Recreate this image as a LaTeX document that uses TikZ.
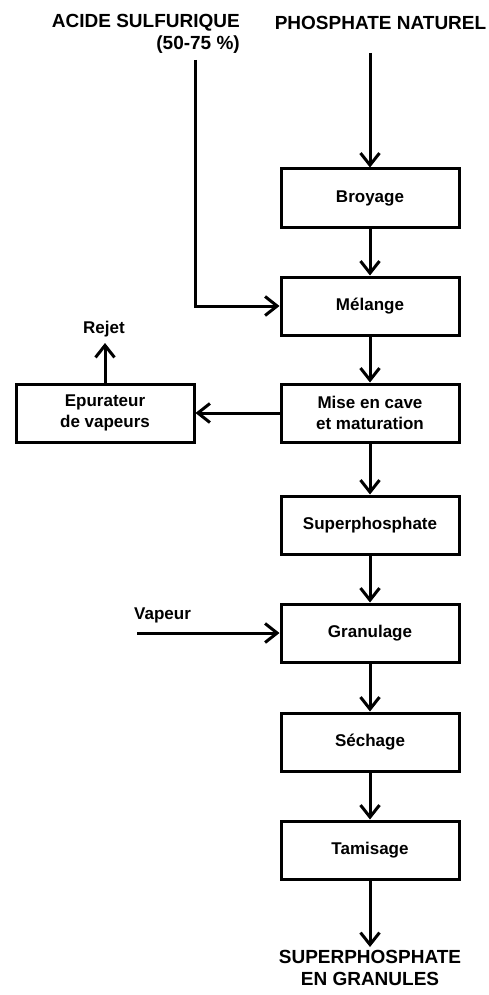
\documentclass[tikz,border=0pt]{standalone}
\usepackage{fontspec}
\setmainfont{Liberation Sans}
\usetikzlibrary{arrows.meta}
\begin{document}
\begin{tikzpicture}[x=1pt,y=-1pt,
  stepbox/.style={draw, line width=3pt, minimum width=178pt, minimum height=58pt,
    inner sep=0pt, align=center, font=\bfseries\fontsize{17}{21}\selectfont},
  label/.style={inner sep=0pt, font=\bfseries\fontsize{17}{21}\selectfont},
  title/.style={inner sep=0pt, font=\bfseries\fontsize{19}{22}\selectfont},
  flow/.style={line width=3pt, -{Straight Barb[length=12pt,width=19pt,line width=3pt]}}
]
\useasboundingbox (0,0) rectangle (489,995);

% feed labels
\node[title, align=right, anchor=east] (acid) at (240,34) {ACIDE SULFURIQUE\\(50-75 \%)};
\node[title] (phos) at (380.5,23) {PHOSPHATE NATUREL};

% process steps
\node[stepbox] (broy) at (370,198) {Broyage};
\node[stepbox] (mel)  at (370,306) {Mélange};
\node[stepbox] (mise) at (370,413) {Mise en cave\\et maturation};
\node[stepbox] (epu)  at (105,413) {Epurateur\\de vapeurs};
\node[stepbox] (sup)  at (370,525) {Superphosphate};
\node[stepbox] (gran) at (370,633) {Granulage};
\node[stepbox] (sech) at (370,742) {Séchage};
\node[stepbox] (tam)  at (370,850) {Tamisage};

% free ends
\coordinate (phostop) at (370,53);
\coordinate (acidtop) at (195,60);
\coordinate (vaptail) at (137,633);
\coordinate (rejtip)  at (105,343);
\coordinate (outtip)  at (370,947);

\node[label] (rejet) at (104,329) {Rejet};
\node[label, anchor=west] (vap) at (134,615) {Vapeur};
\node[title, align=center, anchor=north] (prod) at (370,950) {SUPERPHOSPHATE\\EN GRANULES};

% connectors
\draw[flow] (phostop) -- (broy.north);
\draw[flow] (broy.south) -- (mel.north);
\draw[flow] (acidtop) |- (mel.west);
\draw[flow] (mel.south) -- (mise.north);
\draw[flow] (mise.west) -- (epu.east);
\draw[flow] (epu.north) -- (rejtip);
\draw[flow] (mise.south) -- (sup.north);
\draw[flow] (sup.south) -- (gran.north);
\draw[flow] (vaptail) -- (gran.west);
\draw[flow] (gran.south) -- (sech.north);
\draw[flow] (sech.south) -- (tam.north);
\draw[flow] (tam.south) -- (outtip);
\end{tikzpicture}
\end{document}
